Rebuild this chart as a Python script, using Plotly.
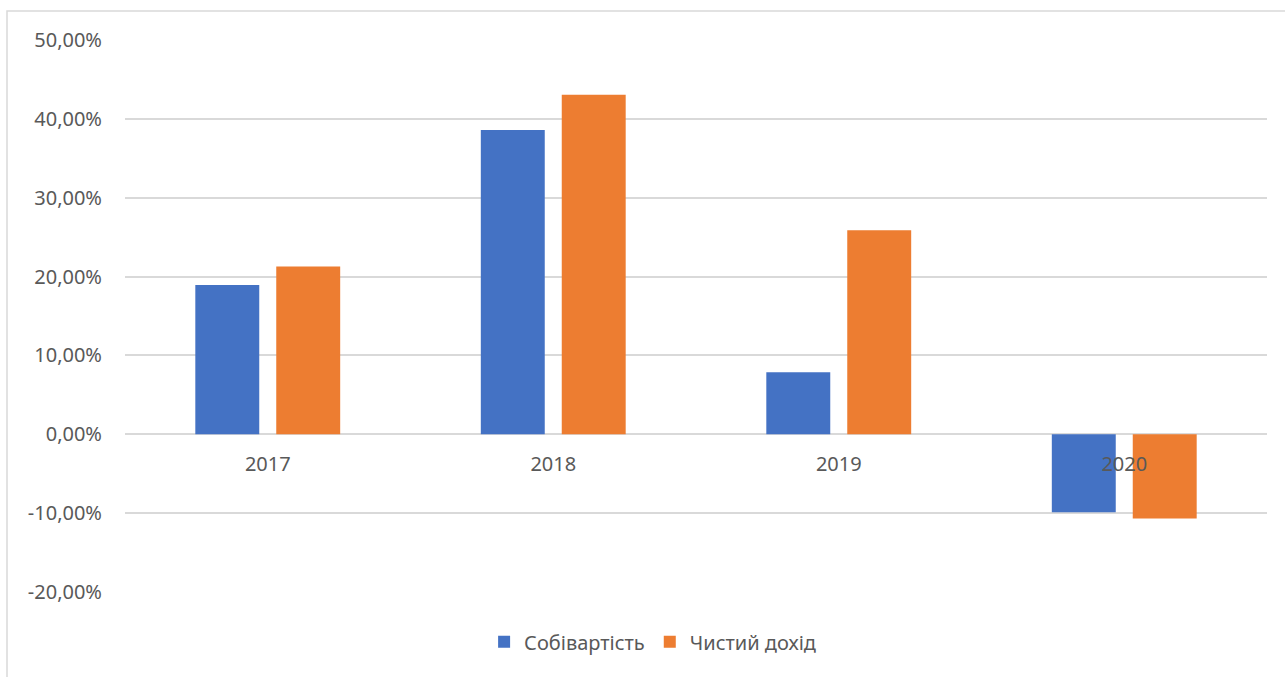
import plotly.graph_objects as go

# Annual growth rates, %
years = ["2017", "2018", "2019", "2020"]
cost_growth = [18.94, 38.58, 7.86, -9.89]      # Собівартість
revenue_growth = [21.29, 43.05, 25.86, -10.68]  # Чистий дохід

y_ticks = [-20, -10, 0, 10, 20, 30, 40, 50]
y_tick_text = [f"{t:.2f}%".replace(".", ",") for t in y_ticks]

BLUE = "#4472C4"
ORANGE = "#ED7D31"
GRID = "#D9D9D9"
TEXT = "#595959"
FONT = "Noto Sans"
SIZE = 20

fig = go.Figure()
fig.add_trace(go.Bar(
    name="Собівартість", x=years, y=cost_growth,
    marker=dict(color=BLUE, line=dict(width=0)),
))
fig.add_trace(go.Bar(
    name="Чистий дохід", x=years, y=revenue_growth,
    marker=dict(color=ORANGE, line=dict(width=0)),
))

y_min, y_max = -20, 50
zero_pos = (0 - y_min) / (y_max - y_min)

fig.update_layout(
    width=1285, height=677,
    margin=dict(l=125, r=18, t=40, b=85),
    paper_bgcolor="white", plot_bgcolor="white",
    barmode="group", bargap=0.433, bargroupgap=0.21,
    font=dict(family=FONT, size=SIZE, color=TEXT),
    showlegend=True,
    legend=dict(
        orientation="h", x=0.462, xanchor="center", y=-0.055, yanchor="top",
        font=dict(family=FONT, size=SIZE, color=TEXT),
        itemwidth=30, traceorder="normal",
    ),
    xaxis=dict(
        type="category", anchor="free", position=zero_pos,
        showgrid=False, showline=False, zeroline=False,
        ticks="", ticklabelstandoff=16,
        tickfont=dict(family=FONT, size=SIZE, color=TEXT),
    ),
    yaxis=dict(
        range=[y_min, y_max],
        tickvals=y_ticks, ticktext=y_tick_text,
        showgrid=True, gridcolor=GRID, gridwidth=1.5,
        zeroline=True, zerolinecolor=GRID, zerolinewidth=1.5,
        showline=False, ticks="", ticklabelstandoff=22,
        tickfont=dict(family=FONT, size=SIZE, color=TEXT),
    ),
    shapes=[dict(
        type="rect", xref="paper", yref="paper",
        x0=(7 - 125) / 1142, x1=1.03,
        y0=-0.2, y1=1 + (40 - 11) / 552,
        line=dict(color=GRID, width=1.5), fillcolor="rgba(0,0,0,0)",
        layer="below",
    )],
)

fig.write_html("out.html")
